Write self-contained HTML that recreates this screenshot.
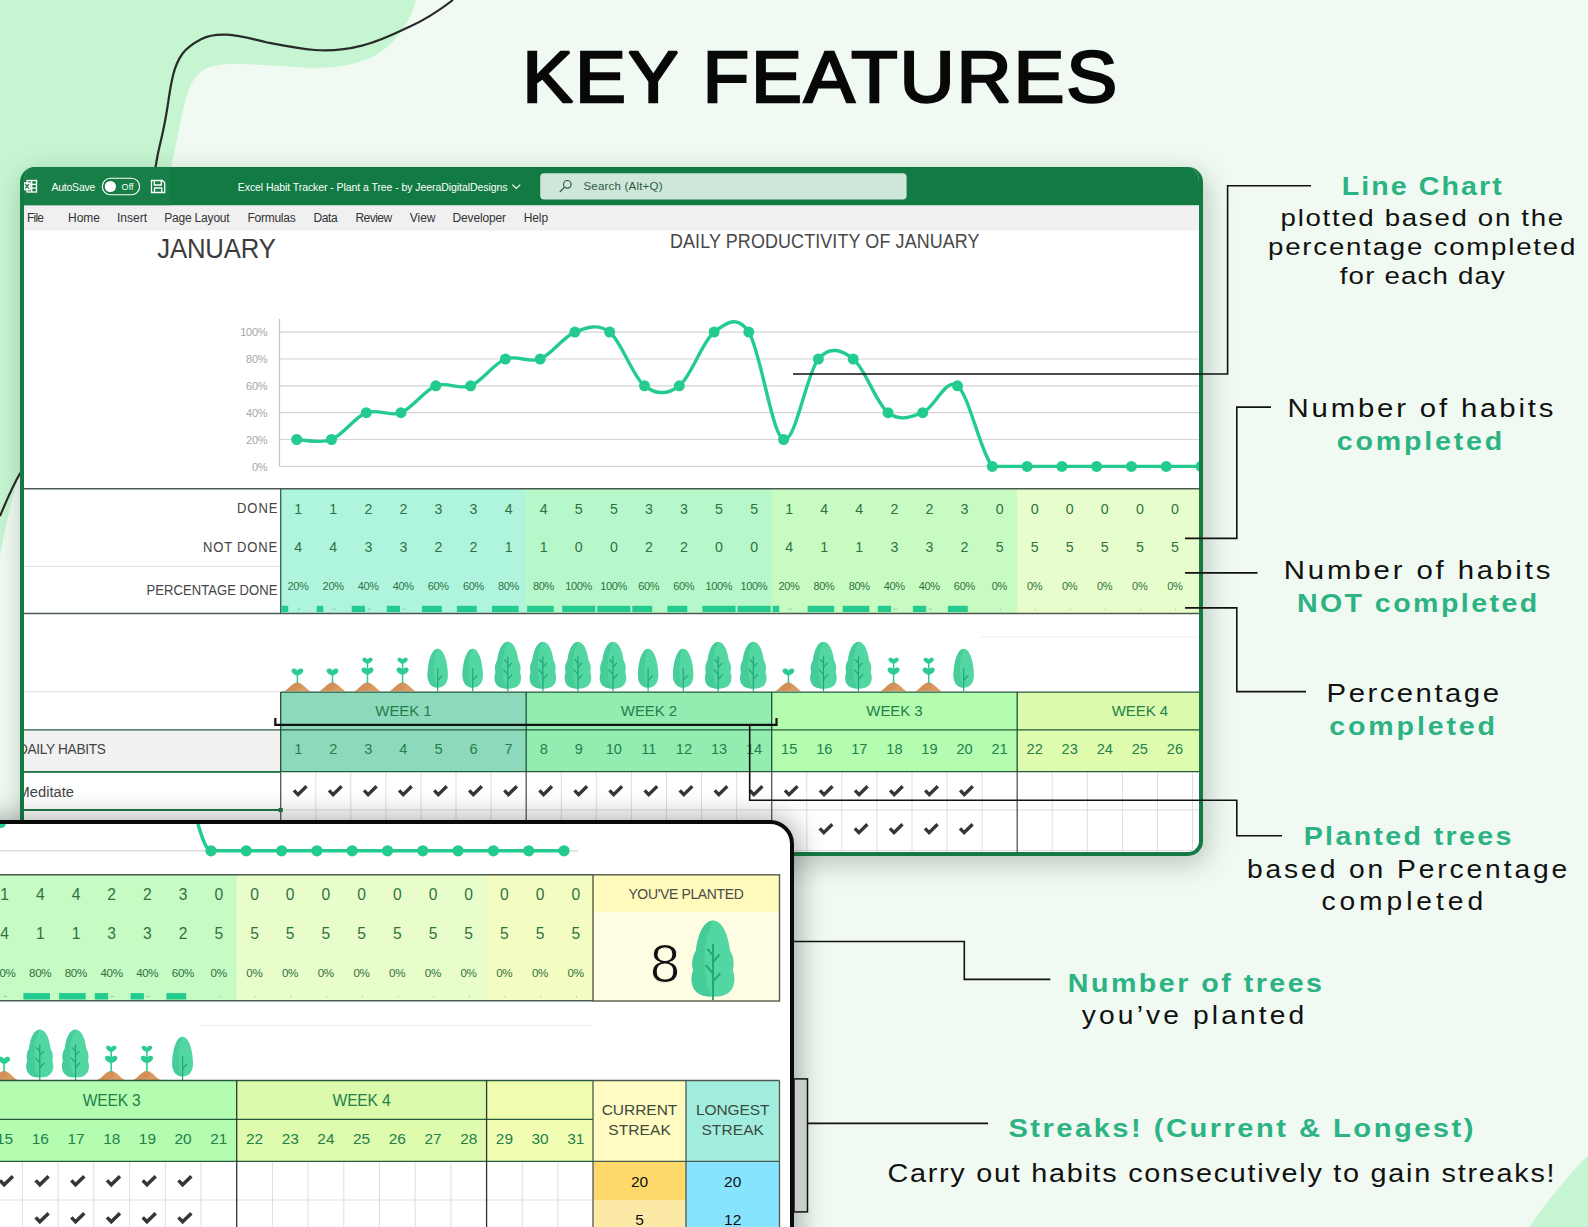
<!DOCTYPE html>
<html lang="en"><head><meta charset="utf-8"><title>Key Features - Excel Habit Tracker</title>
<style>
html,body{margin:0;padding:0;background:#f0faf2;}
body{font-family:"Liberation Sans", sans-serif;}
#page{position:relative;width:1588px;height:1227px;overflow:hidden;background:#f0faf2;}
#page>svg,#page>div{position:absolute;left:0;top:0;}
svg{display:block;overflow:visible;}
svg text{font-family:"Liberation Sans", sans-serif;white-space:pre;}
#win1{left:20px!important;top:167px!important;width:1183px;height:689px;box-sizing:border-box;border:4px solid #147a44;border-top-width:0;border-radius:15px;overflow:hidden;background:#fff;}
#win1 svg{position:absolute;left:-24px;top:-167px;}
#sh1{left:24px!important;top:172px!important;width:1176px;height:682px;border-radius:15px;box-shadow:3px 6px 26px 5px rgba(40,60,50,.26);}
#card2{left:-30px!important;top:820px!important;width:824px;height:450px;box-sizing:border-box;border:4px solid #0a0a0a;border-radius:0 24px 0 0;overflow:hidden;background:#fff;}
#card2 svg{position:absolute;left:26px;top:-824px;}
#sh2{left:-30px!important;top:824px!important;width:820px;height:450px;border-radius:0 24px 0 0;box-shadow:3px 0 26px 7px rgba(30,40,35,.36);}
#title{left:0;top:0;}
</style></head>
<body>
<div id="page">
<svg id="bg" width="1588" height="1227" viewBox="0 0 1588 1227">
<path d="M0,0 H416 C410,22 392,52 362,61 C330,72 300,67 252,64.5 C225,63 208,64 198,74 C187,86 184,105 180,125 C176,146 172,165 165,190 C150,260 80,400 21,470 C14,488 5,528 0,556 Z" fill="#c5f5d1"/>
<path d="M1588,1155.5 C1576,1167 1548,1199 1529.5,1227 H1588 Z" fill="#c5f5d1"/>
<path d="M453,0 C440,10 425,20 409,27 C392,35 378,42 362,45.6 C345,50 330,51 315,50 C298,48.5 283,45.5 267.6,42.5 C252,39 240,35.2 226.7,34.6 C216,34.2 208,35.5 201.5,39 C193,43.5 187,47.5 182.6,53.5 C177.5,60.5 175,67 173,75.6 C170,88 168.8,99 167,110 C165,122 163,132 160.6,141.7 C158.5,150 157,158 155.9,165 C150,200 118,330 20,473.5 C12,487 6,502 0,516" stroke="#2a2a2a" stroke-width="2.2" fill="none"/>
</svg>
<div id="sh1"></div>
<div id="win1"><svg width="1588" height="1227" viewBox="0 0 1588 1227"><defs>
<g id="mound"><path d="M-13.5,0 C-9.5,-1 -5,-8.8 0,-8.8 C5,-8.8 9.5,-1 13.5,0 Z" fill="#dc9a63"/><path d="M-13.5,0 C-9.5,-1 -5,-8.8 0,-8.8 C3,-8.8 4,-5 2,-3 C0,-1 -6,0 -13.5,0 Z" fill="#c98550" opacity=".5"/></g>
<g id="heart"><path d="M0,3 C-2,2.2 -5.6,0.6 -5.6,-1.9 C-5.6,-4.3 -2,-4.7 0,-2.1 C2,-4.7 5.6,-4.3 5.6,-1.9 C5.6,0.6 2,2.2 0,3 Z" fill="#2ccb90"/></g>
<g id="t1"><use href="#mound"/><path d="M0,-8 V-16.5" stroke="#2ccb90" stroke-width="1.5"/><use href="#heart" transform="translate(0,-18.6) scale(1.05)"/></g>
<g id="t2"><use href="#mound"/><path d="M0,-8 V-29" stroke="#2ccb90" stroke-width="1.5"/><use href="#heart" transform="translate(0,-19.5) scale(1.08)"/><use href="#heart" transform="translate(0,-30) scale(.92)"/></g>
<g id="t3"><path d="M0,-42.5 C7,-42.5 10.2,-26 10.2,-16 C10.2,-7.5 5.5,-3.5 0,-3.5 C-5.5,-3.5 -10.2,-7.5 -10.2,-16 C-10.2,-26 -7,-42.5 0,-42.5 Z" fill="#52d6a2"/><path d="M0,-42.5 C-7,-42.5 -10.2,-26 -10.2,-16 C-10.2,-7.5 -5.5,-3.5 0,-3.5 C-4,-8 -6,-30 0,-42.5 Z" fill="#3fc592" opacity=".55"/><path d="M0,0 V-23 M0,-11 L4.5,-16" stroke="#20a674" stroke-width="1.15" fill="none"/></g>
<g id="t4"><path d="M0,-49.5 C6,-49.5 9.5,-40 10.5,-31 C13,-27 13.2,-22 12.2,-19 C14.2,-14 13.6,-7 8.5,-4.2 C5,-2.4 2,-2.6 0,-2.6 C-2,-2.6 -5,-2.4 -8.5,-4.2 C-13.6,-7 -14.2,-14 -12.2,-19 C-13.2,-22 -13,-27 -10.5,-31 C-9.5,-40 -6,-49.5 0,-49.5 Z" fill="#52d6a2"/><path d="M0,-49.5 C-6,-49.5 -9.5,-40 -10.5,-31 C-13,-27 -13.2,-22 -12.2,-19 C-14.2,-14 -13.6,-7 -8.5,-4.2 C-5,-2.4 -2,-2.6 0,-2.6 C-6,-8 -8,-34 0,-49.5 Z" fill="#3fc592" opacity=".6"/><path d="M0,0 V-35 M0,-12 L4.5,-17 M0,-17 L-4.5,-22 M0,-24 L4,-28.5 M0,-28 L-3.5,-32" stroke="#20a674" stroke-width="1.15" fill="none"/></g>
<g id="chk"><path d="M-6.3,-0.6 L-2.2,3.6 L6.3,-4.7" stroke="#363636" stroke-width="3.4" fill="none" stroke-linejoin="miter"/></g>
</defs>
<rect x="20" y="167" width="1190" height="38.5" fill="#127a43"/>
<rect x="20" y="167" width="150" height="38.5" fill="#177e48"/>
<rect x="20" y="205.5" width="1190" height="25" fill="#f0f0f0"/>
<g stroke="#fff" stroke-width="1.3" fill="none"><rect x="27" y="180.5" width="9.5" height="11.5"/><path d="M27,184.3 H36.5 M27,188.2 H36.5 M31.7,180.5 V192"/></g><rect x="23.5" y="182.3" width="7.2" height="8" fill="#fff"/><path d="M25.2,184 L29,188.6 M29,184 L25.2,188.6" stroke="#177e48" stroke-width="1.2"/>
<text x="51.40" y="190.80" font-size="10.5" fill="#fff" letter-spacing="-0.219">AutoSave</text>
<rect x="102.3" y="178.3" width="37.3" height="16.4" rx="8.2" fill="none" stroke="#fff" stroke-width="1.1"/><circle cx="110.4" cy="186.5" r="5.6" fill="#fff"/>
<text x="121.60" y="189.60" font-size="9" fill="#fff" letter-spacing="0.081">Off</text>
<g stroke="#fff" stroke-width="1.3" fill="none"><path d="M151.5,180.5 H162.5 L164.7,182.7 V192.5 H151.5 Z"/><path d="M154.3,180.5 V185 H161.3 V180.5 M154.5,192.5 V188 H161.7 V192.5"/></g>
<text x="237.80" y="190.70" font-size="10.5" fill="#fff" letter-spacing="-0.070">Excel Habit Tracker - Plant a Tree - by JeeraDigitalDesigns</text>
<path d="M512.3,184.6 L516.3,188.4 L520.3,184.6" stroke="#fff" stroke-width="1.2" fill="none"/>
<rect x="540.2" y="173.3" width="366.4" height="26.2" rx="4" fill="#cfe6da"/>
<circle cx="567.3" cy="184.3" r="3.8" fill="none" stroke="#2c5c44" stroke-width="1.2"/><path d="M564.6,187.2 L559.8,192" stroke="#2c5c44" stroke-width="1.2"/>
<text x="583.50" y="190.20" font-size="11.5" fill="#2c5c44" letter-spacing="0.202">Search (Alt+Q)</text>
<text x="27.00" y="222.30" font-size="12" fill="#333" letter-spacing="-0.779">File</text>
<text x="68.00" y="222.30" font-size="12" fill="#333" letter-spacing="-0.003">Home</text>
<text x="117.00" y="222.30" font-size="12" fill="#333" letter-spacing="-0.002">Insert</text>
<text x="164.20" y="222.30" font-size="12" fill="#333" letter-spacing="-0.189">Page Layout</text>
<text x="247.40" y="222.30" font-size="12" fill="#333" letter-spacing="-0.244">Formulas</text>
<text x="313.40" y="222.30" font-size="12" fill="#333" letter-spacing="-0.316">Data</text>
<text x="355.40" y="222.30" font-size="12" fill="#333" letter-spacing="-0.509">Review</text>
<text x="409.80" y="222.30" font-size="12" fill="#333" letter-spacing="-0.031">View</text>
<text x="452.60" y="222.30" font-size="12" fill="#333" letter-spacing="-0.162">Developer</text>
<text x="523.70" y="222.30" font-size="12" fill="#333" letter-spacing="-0.093">Help</text>
<text transform="translate(157.20,258.00) scale(0.92,1)" font-size="28" fill="#3c3c3c" letter-spacing="-0.176">JANUARY</text>
<text transform="translate(670.00,247.80) scale(0.92,1)" font-size="19.5" fill="#484848" letter-spacing="0.122">DAILY PRODUCTIVITY OF JANUARY</text>
<path d="M279.5,466.4 H1199" stroke="#d4d4d4" stroke-width="1.2"/>
<text x="251.90" y="470.60" font-size="11" fill="#a6a6a6" letter-spacing="-0.300">0%</text>
<path d="M279.5,439.5 H1199" stroke="#d4d4d4" stroke-width="1.2"/>
<text x="246.08" y="443.74" font-size="11" fill="#a6a6a6" letter-spacing="-0.300">20%</text>
<path d="M279.5,412.7 H1199" stroke="#d4d4d4" stroke-width="1.2"/>
<text x="246.08" y="416.88" font-size="11" fill="#a6a6a6" letter-spacing="-0.300">40%</text>
<path d="M279.5,385.8 H1199" stroke="#d4d4d4" stroke-width="1.2"/>
<text x="246.08" y="390.02" font-size="11" fill="#a6a6a6" letter-spacing="-0.300">60%</text>
<path d="M279.5,359.0 H1199" stroke="#d4d4d4" stroke-width="1.2"/>
<text x="246.08" y="363.16" font-size="11" fill="#a6a6a6" letter-spacing="-0.300">80%</text>
<path d="M279.5,332.1 H1199" stroke="#d4d4d4" stroke-width="1.2"/>
<text x="240.27" y="336.30" font-size="11" fill="#a6a6a6" letter-spacing="-0.300">100%</text>
<path d="M279.5,319 V466.4" stroke="#c4c4c4" stroke-width="1.2"/>
<path d="M296.7,439.5 C302.5,439.5 319.9,444.0 331.5,439.5 C343.1,435.1 354.7,417.2 366.3,412.7 C377.9,408.2 389.4,417.2 401.0,412.7 C412.6,408.2 424.2,390.3 435.8,385.8 C447.4,381.3 459.0,390.3 470.6,385.8 C482.2,381.3 493.8,363.4 505.4,359.0 C517.0,354.5 528.6,363.4 540.2,359.0 C551.8,354.5 563.3,336.6 574.9,332.1 C586.5,327.6 598.1,323.1 609.7,332.1 C621.3,341.1 632.9,376.9 644.5,385.8 C656.1,394.8 667.7,394.8 679.3,385.8 C690.9,376.9 702.5,341.1 714.1,332.1 C725.7,323.1 737.2,314.2 748.8,332.1 C760.4,350.0 772.0,435.1 783.6,439.5 C795.2,444.0 806.8,372.4 818.4,359.0 C830.0,345.5 841.6,350.0 853.2,359.0 C864.8,367.9 876.4,403.7 888.0,412.7 C899.6,421.6 911.1,417.2 922.7,412.7 C934.3,408.2 945.9,376.9 957.5,385.8 C969.1,394.8 980.7,453.0 992.3,466.4 C1003.9,466.4 1015.5,466.4 1027.1,466.4 C1038.7,466.4 1050.3,466.4 1061.9,466.4 C1073.5,466.4 1085.0,466.4 1096.6,466.4 C1108.2,466.4 1119.8,466.4 1131.4,466.4 C1143.0,466.4 1154.6,466.4 1166.2,466.4 C1177.8,466.4 1189.4,466.4 1201.0,466.4 C1212.6,466.4 1230.0,466.4 1235.8,466.4" stroke="#23cc8e" stroke-width="3.4" fill="none" stroke-linejoin="round"/>
<circle cx="296.7" cy="439.5" r="5.5" fill="#23cc8e"/>
<circle cx="331.5" cy="439.5" r="5.5" fill="#23cc8e"/>
<circle cx="366.3" cy="412.7" r="5.5" fill="#23cc8e"/>
<circle cx="401.0" cy="412.7" r="5.5" fill="#23cc8e"/>
<circle cx="435.8" cy="385.8" r="5.5" fill="#23cc8e"/>
<circle cx="470.6" cy="385.8" r="5.5" fill="#23cc8e"/>
<circle cx="505.4" cy="359.0" r="5.5" fill="#23cc8e"/>
<circle cx="540.2" cy="359.0" r="5.5" fill="#23cc8e"/>
<circle cx="574.9" cy="332.1" r="5.5" fill="#23cc8e"/>
<circle cx="609.7" cy="332.1" r="5.5" fill="#23cc8e"/>
<circle cx="644.5" cy="385.8" r="5.5" fill="#23cc8e"/>
<circle cx="679.3" cy="385.8" r="5.5" fill="#23cc8e"/>
<circle cx="714.1" cy="332.1" r="5.5" fill="#23cc8e"/>
<circle cx="748.8" cy="332.1" r="5.5" fill="#23cc8e"/>
<circle cx="783.6" cy="439.5" r="5.5" fill="#23cc8e"/>
<circle cx="818.4" cy="359.0" r="5.5" fill="#23cc8e"/>
<circle cx="853.2" cy="359.0" r="5.5" fill="#23cc8e"/>
<circle cx="888.0" cy="412.7" r="5.5" fill="#23cc8e"/>
<circle cx="922.7" cy="412.7" r="5.5" fill="#23cc8e"/>
<circle cx="957.5" cy="385.8" r="5.5" fill="#23cc8e"/>
<circle cx="992.3" cy="466.4" r="5.5" fill="#23cc8e"/>
<circle cx="1027.1" cy="466.4" r="5.5" fill="#23cc8e"/>
<circle cx="1061.9" cy="466.4" r="5.5" fill="#23cc8e"/>
<circle cx="1096.6" cy="466.4" r="5.5" fill="#23cc8e"/>
<circle cx="1131.4" cy="466.4" r="5.5" fill="#23cc8e"/>
<circle cx="1166.2" cy="466.4" r="5.5" fill="#23cc8e"/>
<circle cx="1201.0" cy="466.4" r="5.5" fill="#23cc8e"/>
<circle cx="1235.8" cy="466.4" r="5.5" fill="#23cc8e"/>
<rect x="280.7" y="489" width="245.8" height="124.5" fill="#aff5de"/>
<rect x="526.2" y="489" width="245.8" height="124.5" fill="#b6f8c9"/>
<rect x="771.7" y="489" width="245.8" height="124.5" fill="#c8fbc1"/>
<rect x="1017.2" y="489" width="245.8" height="124.5" fill="#e8fdcc"/>
<path d="M24,488.8 H1199 M24,613.6 H1199" stroke="#4a5a50" stroke-width="1.5"/>
<path d="M280.7,488.8 V613.6" stroke="#3a6a50" stroke-width="1.4"/>
<path d="M24,566.3 H280" stroke="#e4e4e4" stroke-width="1.2"/>
<text transform="translate(237.00,513.30) scale(0.9,1)" font-size="14.5" fill="#444" letter-spacing="1.036">DONE</text>
<text transform="translate(203.00,551.70) scale(0.9,1)" font-size="14.5" fill="#444" letter-spacing="0.893">NOT DONE</text>
<text transform="translate(146.50,595.00) scale(0.9,1)" font-size="14.5" fill="#444" letter-spacing="0.057">PERCENTAGE DONE</text>
<text x="298.20" y="513.60" font-size="14.2" fill="#2f7242" text-anchor="middle">1</text>
<text x="298.20" y="551.80" font-size="14.2" fill="#2f7242" text-anchor="middle">4</text>
<text x="287.54" y="589.50" font-size="11" fill="#2f7242" letter-spacing="-0.350">20%</text>
<rect x="281.6" y="605.8" width="6.6" height="6.2" fill="#23cc8e"/>
<rect x="297.7" y="608.6" width="1" height="1" fill="#5bbd98"/><rect x="299.5" y="608.6" width="1" height="1" fill="#5bbd98"/>
<text x="333.27" y="513.60" font-size="14.2" fill="#2f7242" text-anchor="middle">1</text>
<text x="333.27" y="551.80" font-size="14.2" fill="#2f7242" text-anchor="middle">4</text>
<text x="322.61" y="589.50" font-size="11" fill="#2f7242" letter-spacing="-0.350">20%</text>
<rect x="316.7" y="605.8" width="6.6" height="6.2" fill="#23cc8e"/>
<rect x="332.8" y="608.6" width="1" height="1" fill="#5bbd98"/><rect x="334.6" y="608.6" width="1" height="1" fill="#5bbd98"/>
<text x="368.34" y="513.60" font-size="14.2" fill="#2f7242" text-anchor="middle">2</text>
<text x="368.34" y="551.80" font-size="14.2" fill="#2f7242" text-anchor="middle">3</text>
<text x="357.68" y="589.50" font-size="11" fill="#2f7242" letter-spacing="-0.350">40%</text>
<rect x="351.7" y="605.8" width="13.3" height="6.2" fill="#23cc8e"/>
<rect x="367.8" y="608.6" width="1" height="1" fill="#5bbd98"/><rect x="369.6" y="608.6" width="1" height="1" fill="#5bbd98"/>
<text x="403.41" y="513.60" font-size="14.2" fill="#2f7242" text-anchor="middle">2</text>
<text x="403.41" y="551.80" font-size="14.2" fill="#2f7242" text-anchor="middle">3</text>
<text x="392.75" y="589.50" font-size="11" fill="#2f7242" letter-spacing="-0.350">40%</text>
<rect x="386.8" y="605.8" width="13.3" height="6.2" fill="#23cc8e"/>
<rect x="402.9" y="608.6" width="1" height="1" fill="#5bbd98"/><rect x="404.7" y="608.6" width="1" height="1" fill="#5bbd98"/>
<text x="438.48" y="513.60" font-size="14.2" fill="#2f7242" text-anchor="middle">3</text>
<text x="438.48" y="551.80" font-size="14.2" fill="#2f7242" text-anchor="middle">2</text>
<text x="427.82" y="589.50" font-size="11" fill="#2f7242" letter-spacing="-0.350">60%</text>
<rect x="421.9" y="605.8" width="19.9" height="6.2" fill="#23cc8e"/>
<text x="473.55" y="513.60" font-size="14.2" fill="#2f7242" text-anchor="middle">3</text>
<text x="473.55" y="551.80" font-size="14.2" fill="#2f7242" text-anchor="middle">2</text>
<text x="462.89" y="589.50" font-size="11" fill="#2f7242" letter-spacing="-0.350">60%</text>
<rect x="456.9" y="605.8" width="19.9" height="6.2" fill="#23cc8e"/>
<text x="508.62" y="513.60" font-size="14.2" fill="#2f7242" text-anchor="middle">4</text>
<text x="508.62" y="551.80" font-size="14.2" fill="#2f7242" text-anchor="middle">1</text>
<text x="497.96" y="589.50" font-size="11" fill="#2f7242" letter-spacing="-0.350">80%</text>
<rect x="492.0" y="605.8" width="26.6" height="6.2" fill="#23cc8e"/>
<text x="543.69" y="513.60" font-size="14.2" fill="#2f7242" text-anchor="middle">4</text>
<text x="543.69" y="551.80" font-size="14.2" fill="#2f7242" text-anchor="middle">1</text>
<text x="533.03" y="589.50" font-size="11" fill="#2f7242" letter-spacing="-0.350">80%</text>
<rect x="527.1" y="605.8" width="26.6" height="6.2" fill="#23cc8e"/>
<text x="578.76" y="513.60" font-size="14.2" fill="#2f7242" text-anchor="middle">5</text>
<text x="578.76" y="551.80" font-size="14.2" fill="#2f7242" text-anchor="middle">0</text>
<text x="565.22" y="589.50" font-size="11" fill="#2f7242" letter-spacing="-0.350">100%</text>
<rect x="562.2" y="605.8" width="33.2" height="6.2" fill="#23cc8e"/>
<text x="613.83" y="513.60" font-size="14.2" fill="#2f7242" text-anchor="middle">5</text>
<text x="613.83" y="551.80" font-size="14.2" fill="#2f7242" text-anchor="middle">0</text>
<text x="600.29" y="589.50" font-size="11" fill="#2f7242" letter-spacing="-0.350">100%</text>
<rect x="597.2" y="605.8" width="33.2" height="6.2" fill="#23cc8e"/>
<text x="648.90" y="513.60" font-size="14.2" fill="#2f7242" text-anchor="middle">3</text>
<text x="648.90" y="551.80" font-size="14.2" fill="#2f7242" text-anchor="middle">2</text>
<text x="638.24" y="589.50" font-size="11" fill="#2f7242" letter-spacing="-0.350">60%</text>
<rect x="632.3" y="605.8" width="19.9" height="6.2" fill="#23cc8e"/>
<text x="683.97" y="513.60" font-size="14.2" fill="#2f7242" text-anchor="middle">3</text>
<text x="683.97" y="551.80" font-size="14.2" fill="#2f7242" text-anchor="middle">2</text>
<text x="673.31" y="589.50" font-size="11" fill="#2f7242" letter-spacing="-0.350">60%</text>
<rect x="667.4" y="605.8" width="19.9" height="6.2" fill="#23cc8e"/>
<text x="719.04" y="513.60" font-size="14.2" fill="#2f7242" text-anchor="middle">5</text>
<text x="719.04" y="551.80" font-size="14.2" fill="#2f7242" text-anchor="middle">0</text>
<text x="705.50" y="589.50" font-size="11" fill="#2f7242" letter-spacing="-0.350">100%</text>
<rect x="702.4" y="605.8" width="33.2" height="6.2" fill="#23cc8e"/>
<text x="754.11" y="513.60" font-size="14.2" fill="#2f7242" text-anchor="middle">5</text>
<text x="754.11" y="551.80" font-size="14.2" fill="#2f7242" text-anchor="middle">0</text>
<text x="740.57" y="589.50" font-size="11" fill="#2f7242" letter-spacing="-0.350">100%</text>
<rect x="737.5" y="605.8" width="33.2" height="6.2" fill="#23cc8e"/>
<text x="789.18" y="513.60" font-size="14.2" fill="#2f7242" text-anchor="middle">1</text>
<text x="789.18" y="551.80" font-size="14.2" fill="#2f7242" text-anchor="middle">4</text>
<text x="778.52" y="589.50" font-size="11" fill="#2f7242" letter-spacing="-0.350">20%</text>
<rect x="772.6" y="605.8" width="6.6" height="6.2" fill="#23cc8e"/>
<rect x="788.7" y="608.6" width="1" height="1" fill="#5bbd98"/><rect x="790.5" y="608.6" width="1" height="1" fill="#5bbd98"/>
<text x="824.25" y="513.60" font-size="14.2" fill="#2f7242" text-anchor="middle">4</text>
<text x="824.25" y="551.80" font-size="14.2" fill="#2f7242" text-anchor="middle">1</text>
<text x="813.59" y="589.50" font-size="11" fill="#2f7242" letter-spacing="-0.350">80%</text>
<rect x="807.6" y="605.8" width="26.6" height="6.2" fill="#23cc8e"/>
<text x="859.32" y="513.60" font-size="14.2" fill="#2f7242" text-anchor="middle">4</text>
<text x="859.32" y="551.80" font-size="14.2" fill="#2f7242" text-anchor="middle">1</text>
<text x="848.66" y="589.50" font-size="11" fill="#2f7242" letter-spacing="-0.350">80%</text>
<rect x="842.7" y="605.8" width="26.6" height="6.2" fill="#23cc8e"/>
<text x="894.39" y="513.60" font-size="14.2" fill="#2f7242" text-anchor="middle">2</text>
<text x="894.39" y="551.80" font-size="14.2" fill="#2f7242" text-anchor="middle">3</text>
<text x="883.73" y="589.50" font-size="11" fill="#2f7242" letter-spacing="-0.350">40%</text>
<rect x="877.8" y="605.8" width="13.3" height="6.2" fill="#23cc8e"/>
<rect x="893.9" y="608.6" width="1" height="1" fill="#5bbd98"/><rect x="895.7" y="608.6" width="1" height="1" fill="#5bbd98"/>
<text x="929.46" y="513.60" font-size="14.2" fill="#2f7242" text-anchor="middle">2</text>
<text x="929.46" y="551.80" font-size="14.2" fill="#2f7242" text-anchor="middle">3</text>
<text x="918.80" y="589.50" font-size="11" fill="#2f7242" letter-spacing="-0.350">40%</text>
<rect x="912.9" y="605.8" width="13.3" height="6.2" fill="#23cc8e"/>
<rect x="929.0" y="608.6" width="1" height="1" fill="#5bbd98"/><rect x="930.8" y="608.6" width="1" height="1" fill="#5bbd98"/>
<text x="964.53" y="513.60" font-size="14.2" fill="#2f7242" text-anchor="middle">3</text>
<text x="964.53" y="551.80" font-size="14.2" fill="#2f7242" text-anchor="middle">2</text>
<text x="953.87" y="589.50" font-size="11" fill="#2f7242" letter-spacing="-0.350">60%</text>
<rect x="947.9" y="605.8" width="19.9" height="6.2" fill="#23cc8e"/>
<text x="999.60" y="513.60" font-size="14.2" fill="#2f7242" text-anchor="middle">0</text>
<text x="999.60" y="551.80" font-size="14.2" fill="#2f7242" text-anchor="middle">5</text>
<text x="991.83" y="589.50" font-size="11" fill="#2f7242" letter-spacing="-0.350">0%</text>
<rect x="999.8" y="608.8" width="1" height="1" fill="#8fae8a"/>
<text x="1034.67" y="513.60" font-size="14.2" fill="#2f7242" text-anchor="middle">0</text>
<text x="1034.67" y="551.80" font-size="14.2" fill="#2f7242" text-anchor="middle">5</text>
<text x="1026.90" y="589.50" font-size="11" fill="#2f7242" letter-spacing="-0.350">0%</text>
<rect x="1034.9" y="608.8" width="1" height="1" fill="#8fae8a"/>
<text x="1069.74" y="513.60" font-size="14.2" fill="#2f7242" text-anchor="middle">0</text>
<text x="1069.74" y="551.80" font-size="14.2" fill="#2f7242" text-anchor="middle">5</text>
<text x="1061.97" y="589.50" font-size="11" fill="#2f7242" letter-spacing="-0.350">0%</text>
<rect x="1069.9" y="608.8" width="1" height="1" fill="#8fae8a"/>
<text x="1104.81" y="513.60" font-size="14.2" fill="#2f7242" text-anchor="middle">0</text>
<text x="1104.81" y="551.80" font-size="14.2" fill="#2f7242" text-anchor="middle">5</text>
<text x="1097.04" y="589.50" font-size="11" fill="#2f7242" letter-spacing="-0.350">0%</text>
<rect x="1105.0" y="608.8" width="1" height="1" fill="#8fae8a"/>
<text x="1139.88" y="513.60" font-size="14.2" fill="#2f7242" text-anchor="middle">0</text>
<text x="1139.88" y="551.80" font-size="14.2" fill="#2f7242" text-anchor="middle">5</text>
<text x="1132.11" y="589.50" font-size="11" fill="#2f7242" letter-spacing="-0.350">0%</text>
<rect x="1140.1" y="608.8" width="1" height="1" fill="#8fae8a"/>
<text x="1174.95" y="513.60" font-size="14.2" fill="#2f7242" text-anchor="middle">0</text>
<text x="1174.95" y="551.80" font-size="14.2" fill="#2f7242" text-anchor="middle">5</text>
<text x="1167.18" y="589.50" font-size="11" fill="#2f7242" letter-spacing="-0.350">0%</text>
<rect x="1175.2" y="608.8" width="1" height="1" fill="#8fae8a"/>
<path d="M24,691.6 H280" stroke="#e6e6e6" stroke-width="1.2"/><path d="M981,637 H1199" stroke="#ececec" stroke-width="1"/>
<use href="#t1" x="297.4" y="691.3"/>
<use href="#t1" x="332.5" y="691.3"/>
<use href="#t2" x="367.5" y="691.3"/>
<use href="#t2" x="402.6" y="691.3"/>
<use href="#t3" x="437.7" y="691.3"/>
<use href="#t3" x="472.7" y="691.3"/>
<use href="#t4" x="507.8" y="691.3"/>
<use href="#t4" x="542.9" y="691.3"/>
<use href="#t4" x="578.0" y="691.3"/>
<use href="#t4" x="613.0" y="691.3"/>
<use href="#t3" x="648.1" y="691.3"/>
<use href="#t3" x="683.2" y="691.3"/>
<use href="#t4" x="718.2" y="691.3"/>
<use href="#t4" x="753.3" y="691.3"/>
<use href="#t1" x="788.4" y="691.3"/>
<use href="#t4" x="823.5" y="691.3"/>
<use href="#t4" x="858.5" y="691.3"/>
<use href="#t2" x="893.6" y="691.3"/>
<use href="#t2" x="928.7" y="691.3"/>
<use href="#t3" x="963.7" y="691.3"/>
<rect x="280.7" y="692" width="245.8" height="38" fill="#8dd9bc"/>
<rect x="280.7" y="730" width="245.8" height="42" fill="#8dd9bc"/>
<text x="375.35" y="716.20" font-size="15" fill="#23804a" letter-spacing="-0.096">WEEK 1</text>
<rect x="526.2" y="692" width="245.8" height="38" fill="#93ecb0"/>
<rect x="526.2" y="730" width="245.8" height="42" fill="#93ecb0"/>
<text x="620.84" y="716.20" font-size="15" fill="#23804a" letter-spacing="-0.096">WEEK 2</text>
<rect x="771.7" y="692" width="245.8" height="38" fill="#b3fcb0"/>
<rect x="771.7" y="730" width="245.8" height="42" fill="#b3fcb0"/>
<text x="866.33" y="716.20" font-size="15" fill="#23804a" letter-spacing="-0.096">WEEK 3</text>
<rect x="1017.2" y="692" width="245.8" height="38" fill="#dbfaab"/>
<rect x="1017.2" y="730" width="245.8" height="42" fill="#dffbae"/>
<text x="1111.82" y="716.20" font-size="15" fill="#23804a" letter-spacing="-0.096">WEEK 4</text>
<rect x="24" y="730" width="256.7" height="41.6" fill="#f1f1f1"/>
<text x="298.20" y="754.30" font-size="14.6" fill="#23804a" text-anchor="middle">1</text>
<text x="333.27" y="754.30" font-size="14.6" fill="#23804a" text-anchor="middle">2</text>
<text x="368.34" y="754.30" font-size="14.6" fill="#23804a" text-anchor="middle">3</text>
<text x="403.41" y="754.30" font-size="14.6" fill="#23804a" text-anchor="middle">4</text>
<text x="438.48" y="754.30" font-size="14.6" fill="#23804a" text-anchor="middle">5</text>
<text x="473.55" y="754.30" font-size="14.6" fill="#23804a" text-anchor="middle">6</text>
<text x="508.62" y="754.30" font-size="14.6" fill="#23804a" text-anchor="middle">7</text>
<text x="543.69" y="754.30" font-size="14.6" fill="#23804a" text-anchor="middle">8</text>
<text x="578.76" y="754.30" font-size="14.6" fill="#23804a" text-anchor="middle">9</text>
<text x="613.83" y="754.30" font-size="14.6" fill="#23804a" text-anchor="middle">10</text>
<text x="648.90" y="754.30" font-size="14.6" fill="#23804a" text-anchor="middle">11</text>
<text x="683.97" y="754.30" font-size="14.6" fill="#23804a" text-anchor="middle">12</text>
<text x="719.04" y="754.30" font-size="14.6" fill="#23804a" text-anchor="middle">13</text>
<text x="754.11" y="754.30" font-size="14.6" fill="#23804a" text-anchor="middle">14</text>
<text x="789.18" y="754.30" font-size="14.6" fill="#23804a" text-anchor="middle">15</text>
<text x="824.25" y="754.30" font-size="14.6" fill="#23804a" text-anchor="middle">16</text>
<text x="859.32" y="754.30" font-size="14.6" fill="#23804a" text-anchor="middle">17</text>
<text x="894.39" y="754.30" font-size="14.6" fill="#23804a" text-anchor="middle">18</text>
<text x="929.46" y="754.30" font-size="14.6" fill="#23804a" text-anchor="middle">19</text>
<text x="964.53" y="754.30" font-size="14.6" fill="#23804a" text-anchor="middle">20</text>
<text x="999.60" y="754.30" font-size="14.6" fill="#23804a" text-anchor="middle">21</text>
<text x="1034.67" y="754.30" font-size="14.6" fill="#23804a" text-anchor="middle">22</text>
<text x="1069.74" y="754.30" font-size="14.6" fill="#23804a" text-anchor="middle">23</text>
<text x="1104.81" y="754.30" font-size="14.6" fill="#23804a" text-anchor="middle">24</text>
<text x="1139.88" y="754.30" font-size="14.6" fill="#23804a" text-anchor="middle">25</text>
<text x="1174.95" y="754.30" font-size="14.6" fill="#23804a" text-anchor="middle">26</text>
<path d="M315.8,772 V856" stroke="#dedede" stroke-width="1"/>
<path d="M350.8,772 V856" stroke="#dedede" stroke-width="1"/>
<path d="M385.9,772 V856" stroke="#dedede" stroke-width="1"/>
<path d="M421.0,772 V856" stroke="#dedede" stroke-width="1"/>
<path d="M456.0,772 V856" stroke="#dedede" stroke-width="1"/>
<path d="M491.1,772 V856" stroke="#dedede" stroke-width="1"/>
<path d="M561.3,772 V856" stroke="#dedede" stroke-width="1"/>
<path d="M596.3,772 V856" stroke="#dedede" stroke-width="1"/>
<path d="M631.4,772 V856" stroke="#dedede" stroke-width="1"/>
<path d="M666.5,772 V856" stroke="#dedede" stroke-width="1"/>
<path d="M701.5,772 V856" stroke="#dedede" stroke-width="1"/>
<path d="M736.6,772 V856" stroke="#dedede" stroke-width="1"/>
<path d="M806.8,772 V856" stroke="#dedede" stroke-width="1"/>
<path d="M841.8,772 V856" stroke="#dedede" stroke-width="1"/>
<path d="M876.9,772 V856" stroke="#dedede" stroke-width="1"/>
<path d="M912.0,772 V856" stroke="#dedede" stroke-width="1"/>
<path d="M947.0,772 V856" stroke="#dedede" stroke-width="1"/>
<path d="M982.1,772 V856" stroke="#dedede" stroke-width="1"/>
<path d="M1052.2,772 V856" stroke="#dedede" stroke-width="1"/>
<path d="M1087.3,772 V856" stroke="#dedede" stroke-width="1"/>
<path d="M1122.4,772 V856" stroke="#dedede" stroke-width="1"/>
<path d="M1157.5,772 V856" stroke="#dedede" stroke-width="1"/>
<path d="M1192.5,772 V856" stroke="#dedede" stroke-width="1"/>
<path d="M280.7,810 H1199 M280.7,850.5 H1199" stroke="#dedede" stroke-width="1"/>
<path d="M280.7,692.2 H1199 M24,729.8 H1199 M24,771.6 H1199" stroke="#27593d" stroke-width="1.3"/>
<path d="M280.7,692 V772" stroke="#1f4f35" stroke-width="1.3"/><path d="M280.7,772 V856" stroke="#555" stroke-width="1.3"/>
<path d="M526.2,692 V772" stroke="#1f4f35" stroke-width="1.3"/><path d="M526.2,772 V856" stroke="#555" stroke-width="1.3"/>
<path d="M771.7,692 V772" stroke="#1f4f35" stroke-width="1.3"/><path d="M771.7,772 V856" stroke="#555" stroke-width="1.3"/>
<path d="M1017.2,692 V772" stroke="#1f4f35" stroke-width="1.3"/><path d="M1017.2,772 V856" stroke="#555" stroke-width="1.3"/>
<text transform="translate(17.90,754.30) scale(0.88,1)" font-size="15.5" fill="#444" letter-spacing="-0.330">DAILY HABITS</text>
<text transform="translate(17.60,796.50) scale(0.95,1)" font-size="15.5" fill="#444">Meditate</text>
<path d="M24,771.8 H280.7 M24,810 H280.7" stroke="#217346" stroke-width="1.8"/><rect x="278.6" y="808" width="4.2" height="4.2" fill="#217346"/>
<use href="#chk" x="300.2" y="791"/>
<use href="#chk" x="335.3" y="791"/>
<use href="#chk" x="370.3" y="791"/>
<use href="#chk" x="405.4" y="791"/>
<use href="#chk" x="440.5" y="791"/>
<use href="#chk" x="475.5" y="791"/>
<use href="#chk" x="510.6" y="791"/>
<use href="#chk" x="545.7" y="791"/>
<use href="#chk" x="580.8" y="791"/>
<use href="#chk" x="615.8" y="791"/>
<use href="#chk" x="650.9" y="791"/>
<use href="#chk" x="686.0" y="791"/>
<use href="#chk" x="721.0" y="791"/>
<use href="#chk" x="756.1" y="791"/>
<use href="#chk" x="791.2" y="791"/>
<use href="#chk" x="826.2" y="791"/>
<use href="#chk" x="861.3" y="791"/>
<use href="#chk" x="896.4" y="791"/>
<use href="#chk" x="931.5" y="791"/>
<use href="#chk" x="966.5" y="791"/>
<use href="#chk" x="826.0" y="829"/>
<use href="#chk" x="861.1" y="829"/>
<use href="#chk" x="896.2" y="829"/>
<use href="#chk" x="931.3" y="829"/>
<use href="#chk" x="966.3" y="829"/>
</svg></div>
<svg id="lines1" width="1588" height="1227" viewBox="0 0 1588 1227">
<path d="M1311,185.7 H1227.6 V374 H793" stroke="#111" stroke-width="1.6" fill="none"/>
<path d="M1271,407.1 H1236.8 V538.4 H1185" stroke="#111" stroke-width="1.6" fill="none"/>
<path d="M1257.5,572.9 H1185" stroke="#111" stroke-width="1.6" fill="none"/>
<path d="M1185,607.9 H1236.8 V691.6 H1306" stroke="#111" stroke-width="1.6" fill="none"/>
<path d="M275.3,718 V724.9 H776.5 V718" stroke="#111" stroke-width="2.2" fill="none"/>
<path d="M749.7,725 V800.3 H1236.8 V835.8 H1282" stroke="#111" stroke-width="1.6" fill="none"/>
</svg>
<div id="sh2"></div>
<div id="card2"><svg width="1588" height="1227" viewBox="0 0 1588 1227">
<path d="M0,850.8 H578" stroke="#d4d4d4" stroke-width="1.2"/>
<path d="M193.5,810 C198,822 204,850.8 211,850.8 H564.0" stroke="#23cc8e" stroke-width="3.5" fill="none"/>
<circle cx="211.0" cy="850.8" r="5.6" fill="#23cc8e"/>
<circle cx="246.3" cy="850.8" r="5.6" fill="#23cc8e"/>
<circle cx="281.6" cy="850.8" r="5.6" fill="#23cc8e"/>
<circle cx="316.9" cy="850.8" r="5.6" fill="#23cc8e"/>
<circle cx="352.2" cy="850.8" r="5.6" fill="#23cc8e"/>
<circle cx="387.5" cy="850.8" r="5.6" fill="#23cc8e"/>
<circle cx="422.8" cy="850.8" r="5.6" fill="#23cc8e"/>
<circle cx="458.1" cy="850.8" r="5.6" fill="#23cc8e"/>
<circle cx="493.4" cy="850.8" r="5.6" fill="#23cc8e"/>
<circle cx="528.7" cy="850.8" r="5.6" fill="#23cc8e"/>
<circle cx="564.0" cy="850.8" r="5.6" fill="#23cc8e"/>
<circle cx="0.5" cy="822.5" r="5.6" fill="#23cc8e"/>
<rect x="-49.0" y="875" width="285.9" height="126" fill="#c6fbc3"/>
<rect x="236.7" y="875" width="250.2" height="126" fill="#e9fdcb"/>
<rect x="486.6" y="875" width="107.4" height="126" fill="#f3fdc2"/>
<path d="M-5,874.8 H593 M-5,1000.8 H593" stroke="#4a5a50" stroke-width="1.5"/>
<text x="4.60" y="900.00" font-size="15.6" fill="#2f7242" text-anchor="middle">1</text>
<text x="4.60" y="939.00" font-size="15.6" fill="#2f7242" text-anchor="middle">4</text>
<text x="-6.65" y="976.60" font-size="11.6" fill="#2f7242" letter-spacing="-0.350">20%</text>
<rect x="-12.3" y="993.1" width="6.6" height="6.4" fill="#23cc8e"/>
<rect x="4.1" y="996" width="1" height="1" fill="#5bbd98"/><rect x="5.9" y="996" width="1" height="1" fill="#5bbd98"/>
<text x="40.30" y="900.00" font-size="15.6" fill="#2f7242" text-anchor="middle">4</text>
<text x="40.30" y="939.00" font-size="15.6" fill="#2f7242" text-anchor="middle">1</text>
<text x="29.05" y="976.60" font-size="11.6" fill="#2f7242" letter-spacing="-0.350">80%</text>
<rect x="23.4" y="993.1" width="26.6" height="6.4" fill="#23cc8e"/>
<text x="76.00" y="900.00" font-size="15.6" fill="#2f7242" text-anchor="middle">4</text>
<text x="76.00" y="939.00" font-size="15.6" fill="#2f7242" text-anchor="middle">1</text>
<text x="64.75" y="976.60" font-size="11.6" fill="#2f7242" letter-spacing="-0.350">80%</text>
<rect x="59.1" y="993.1" width="26.6" height="6.4" fill="#23cc8e"/>
<text x="111.70" y="900.00" font-size="15.6" fill="#2f7242" text-anchor="middle">2</text>
<text x="111.70" y="939.00" font-size="15.6" fill="#2f7242" text-anchor="middle">3</text>
<text x="100.45" y="976.60" font-size="11.6" fill="#2f7242" letter-spacing="-0.350">40%</text>
<rect x="94.8" y="993.1" width="13.3" height="6.4" fill="#23cc8e"/>
<rect x="111.2" y="996" width="1" height="1" fill="#5bbd98"/><rect x="113.0" y="996" width="1" height="1" fill="#5bbd98"/>
<text x="147.40" y="900.00" font-size="15.6" fill="#2f7242" text-anchor="middle">2</text>
<text x="147.40" y="939.00" font-size="15.6" fill="#2f7242" text-anchor="middle">3</text>
<text x="136.15" y="976.60" font-size="11.6" fill="#2f7242" letter-spacing="-0.350">40%</text>
<rect x="130.6" y="993.1" width="13.3" height="6.4" fill="#23cc8e"/>
<rect x="146.9" y="996" width="1" height="1" fill="#5bbd98"/><rect x="148.7" y="996" width="1" height="1" fill="#5bbd98"/>
<text x="183.10" y="900.00" font-size="15.6" fill="#2f7242" text-anchor="middle">3</text>
<text x="183.10" y="939.00" font-size="15.6" fill="#2f7242" text-anchor="middle">2</text>
<text x="171.85" y="976.60" font-size="11.6" fill="#2f7242" letter-spacing="-0.350">60%</text>
<rect x="166.3" y="993.1" width="19.9" height="6.4" fill="#23cc8e"/>
<text x="218.80" y="900.00" font-size="15.6" fill="#2f7242" text-anchor="middle">0</text>
<text x="218.80" y="939.00" font-size="15.6" fill="#2f7242" text-anchor="middle">5</text>
<text x="210.60" y="976.60" font-size="11.6" fill="#2f7242" letter-spacing="-0.350">0%</text>
<rect x="219.0" y="996.2" width="1" height="1" fill="#8fae8a"/>
<text x="254.50" y="900.00" font-size="15.6" fill="#2f7242" text-anchor="middle">0</text>
<text x="254.50" y="939.00" font-size="15.6" fill="#2f7242" text-anchor="middle">5</text>
<text x="246.30" y="976.60" font-size="11.6" fill="#2f7242" letter-spacing="-0.350">0%</text>
<rect x="254.7" y="996.2" width="1" height="1" fill="#8fae8a"/>
<text x="290.20" y="900.00" font-size="15.6" fill="#2f7242" text-anchor="middle">0</text>
<text x="290.20" y="939.00" font-size="15.6" fill="#2f7242" text-anchor="middle">5</text>
<text x="282.00" y="976.60" font-size="11.6" fill="#2f7242" letter-spacing="-0.350">0%</text>
<rect x="290.4" y="996.2" width="1" height="1" fill="#8fae8a"/>
<text x="325.90" y="900.00" font-size="15.6" fill="#2f7242" text-anchor="middle">0</text>
<text x="325.90" y="939.00" font-size="15.6" fill="#2f7242" text-anchor="middle">5</text>
<text x="317.70" y="976.60" font-size="11.6" fill="#2f7242" letter-spacing="-0.350">0%</text>
<rect x="326.1" y="996.2" width="1" height="1" fill="#8fae8a"/>
<text x="361.60" y="900.00" font-size="15.6" fill="#2f7242" text-anchor="middle">0</text>
<text x="361.60" y="939.00" font-size="15.6" fill="#2f7242" text-anchor="middle">5</text>
<text x="353.40" y="976.60" font-size="11.6" fill="#2f7242" letter-spacing="-0.350">0%</text>
<rect x="361.8" y="996.2" width="1" height="1" fill="#8fae8a"/>
<text x="397.30" y="900.00" font-size="15.6" fill="#2f7242" text-anchor="middle">0</text>
<text x="397.30" y="939.00" font-size="15.6" fill="#2f7242" text-anchor="middle">5</text>
<text x="389.10" y="976.60" font-size="11.6" fill="#2f7242" letter-spacing="-0.350">0%</text>
<rect x="397.5" y="996.2" width="1" height="1" fill="#8fae8a"/>
<text x="433.00" y="900.00" font-size="15.6" fill="#2f7242" text-anchor="middle">0</text>
<text x="433.00" y="939.00" font-size="15.6" fill="#2f7242" text-anchor="middle">5</text>
<text x="424.80" y="976.60" font-size="11.6" fill="#2f7242" letter-spacing="-0.350">0%</text>
<rect x="433.2" y="996.2" width="1" height="1" fill="#8fae8a"/>
<text x="468.70" y="900.00" font-size="15.6" fill="#2f7242" text-anchor="middle">0</text>
<text x="468.70" y="939.00" font-size="15.6" fill="#2f7242" text-anchor="middle">5</text>
<text x="460.50" y="976.60" font-size="11.6" fill="#2f7242" letter-spacing="-0.350">0%</text>
<rect x="468.9" y="996.2" width="1" height="1" fill="#8fae8a"/>
<text x="504.40" y="900.00" font-size="15.6" fill="#2f7242" text-anchor="middle">0</text>
<text x="504.40" y="939.00" font-size="15.6" fill="#2f7242" text-anchor="middle">5</text>
<text x="496.20" y="976.60" font-size="11.6" fill="#2f7242" letter-spacing="-0.350">0%</text>
<rect x="504.6" y="996.2" width="1" height="1" fill="#8fae8a"/>
<text x="540.10" y="900.00" font-size="15.6" fill="#2f7242" text-anchor="middle">0</text>
<text x="540.10" y="939.00" font-size="15.6" fill="#2f7242" text-anchor="middle">5</text>
<text x="531.90" y="976.60" font-size="11.6" fill="#2f7242" letter-spacing="-0.350">0%</text>
<rect x="540.3" y="996.2" width="1" height="1" fill="#8fae8a"/>
<text x="575.80" y="900.00" font-size="15.6" fill="#2f7242" text-anchor="middle">0</text>
<text x="575.80" y="939.00" font-size="15.6" fill="#2f7242" text-anchor="middle">5</text>
<text x="567.60" y="976.60" font-size="11.6" fill="#2f7242" letter-spacing="-0.350">0%</text>
<rect x="576.0" y="996.2" width="1" height="1" fill="#8fae8a"/>
<rect x="593" y="875" width="186.5" height="37.5" fill="#fffbbd"/><rect x="593" y="912.5" width="186.5" height="88.5" fill="#fffde4"/>
<rect x="593" y="874.8" width="186.5" height="126.2" fill="none" stroke="#555a4a" stroke-width="1.4"/>
<text transform="translate(628.40,898.90) scale(0.9,1)" font-size="15.5" fill="#4a4a4a" letter-spacing="-0.361">YOU'VE PLANTED</text>
<text x="665.00" y="981.60" font-size="54" fill="#111" text-anchor="middle" stroke="#fffde4" stroke-width="1.0">8</text>
<use href="#t4" transform="translate(713,1000.8) scale(1.62)"/>
<path d="M200,1025.5 H593" stroke="#ececec" stroke-width="1"/>
<use href="#t1" transform="translate(4.1,1080) scale(1.02)"/>
<use href="#t4" transform="translate(39.8,1080) scale(1.02)"/>
<use href="#t4" transform="translate(75.5,1080) scale(1.02)"/>
<use href="#t2" transform="translate(111.2,1080) scale(1.02)"/>
<use href="#t2" transform="translate(146.9,1080) scale(1.02)"/>
<use href="#t3" transform="translate(182.6,1080) scale(1.02)"/>
<rect x="-49.0" y="1080.5" width="285.9" height="39" fill="#b3fcb0"/>
<rect x="-49.0" y="1119.5" width="285.9" height="42" fill="#b3fcb0"/>
<text x="82.70" y="1105.70" font-size="15.6" fill="#23804a" letter-spacing="-0.185">WEEK 3</text>
<rect x="236.7" y="1080.5" width="250.2" height="39" fill="#dbfaab"/>
<rect x="236.7" y="1119.5" width="250.2" height="42" fill="#dffbae"/>
<text x="332.60" y="1105.70" font-size="15.6" fill="#23804a" letter-spacing="-0.185">WEEK 4</text>
<rect x="486.6" y="1080.5" width="107.4" height="39" fill="#f0fdb1"/>
<rect x="486.6" y="1119.5" width="107.4" height="42" fill="#f1fdb3"/>
<text x="4.60" y="1144.20" font-size="15.4" fill="#23804a" text-anchor="middle">15</text>
<text x="40.30" y="1144.20" font-size="15.4" fill="#23804a" text-anchor="middle">16</text>
<text x="76.00" y="1144.20" font-size="15.4" fill="#23804a" text-anchor="middle">17</text>
<text x="111.70" y="1144.20" font-size="15.4" fill="#23804a" text-anchor="middle">18</text>
<text x="147.40" y="1144.20" font-size="15.4" fill="#23804a" text-anchor="middle">19</text>
<text x="183.10" y="1144.20" font-size="15.4" fill="#23804a" text-anchor="middle">20</text>
<text x="218.80" y="1144.20" font-size="15.4" fill="#23804a" text-anchor="middle">21</text>
<text x="254.50" y="1144.20" font-size="15.4" fill="#23804a" text-anchor="middle">22</text>
<text x="290.20" y="1144.20" font-size="15.4" fill="#23804a" text-anchor="middle">23</text>
<text x="325.90" y="1144.20" font-size="15.4" fill="#23804a" text-anchor="middle">24</text>
<text x="361.60" y="1144.20" font-size="15.4" fill="#23804a" text-anchor="middle">25</text>
<text x="397.30" y="1144.20" font-size="15.4" fill="#23804a" text-anchor="middle">26</text>
<text x="433.00" y="1144.20" font-size="15.4" fill="#23804a" text-anchor="middle">27</text>
<text x="468.70" y="1144.20" font-size="15.4" fill="#23804a" text-anchor="middle">28</text>
<text x="504.40" y="1144.20" font-size="15.4" fill="#23804a" text-anchor="middle">29</text>
<text x="540.10" y="1144.20" font-size="15.4" fill="#23804a" text-anchor="middle">30</text>
<text x="575.80" y="1144.20" font-size="15.4" fill="#23804a" text-anchor="middle">31</text>
<path d="M22.4,1161.5 V1230" stroke="#dedede" stroke-width="1"/>
<path d="M58.1,1161.5 V1230" stroke="#dedede" stroke-width="1"/>
<path d="M93.8,1161.5 V1230" stroke="#dedede" stroke-width="1"/>
<path d="M129.6,1161.5 V1230" stroke="#dedede" stroke-width="1"/>
<path d="M165.3,1161.5 V1230" stroke="#dedede" stroke-width="1"/>
<path d="M201.0,1161.5 V1230" stroke="#dedede" stroke-width="1"/>
<path d="M272.4,1161.5 V1230" stroke="#dedede" stroke-width="1"/>
<path d="M308.1,1161.5 V1230" stroke="#dedede" stroke-width="1"/>
<path d="M343.8,1161.5 V1230" stroke="#dedede" stroke-width="1"/>
<path d="M379.4,1161.5 V1230" stroke="#dedede" stroke-width="1"/>
<path d="M415.2,1161.5 V1230" stroke="#dedede" stroke-width="1"/>
<path d="M450.9,1161.5 V1230" stroke="#dedede" stroke-width="1"/>
<path d="M522.2,1161.5 V1230" stroke="#dedede" stroke-width="1"/>
<path d="M557.9,1161.5 V1230" stroke="#dedede" stroke-width="1"/>
<path d="M-5,1200 H593" stroke="#dedede" stroke-width="1"/>
<path d="M-5,1080.5 H593 M-5,1119.3 H593 M-5,1161.4 H593" stroke="#27593d" stroke-width="1.3"/>
<path d="M236.7,1080.5 V1230" stroke="#333" stroke-width="1.3"/>
<path d="M486.6,1080.5 V1230" stroke="#333" stroke-width="1.3"/>
<rect x="593" y="1080.5" width="93" height="81" fill="#fffbc1"/><rect x="686" y="1080.5" width="93.5" height="81" fill="#a1eede"/>
<rect x="593" y="1161.5" width="93" height="38.5" fill="#fdd96c"/><rect x="593" y="1200" width="93" height="30" fill="#fde9a6"/>
<rect x="686" y="1161.5" width="93.5" height="70" fill="#87e4fe"/>
<path d="M593,1080.5 H779.5 M593,1161.4 H779.5 M593,1080.5 V1230 M686,1080.5 V1230 M779.5,1080.5 V1230" stroke="#4a5a50" stroke-width="1.3" fill="none"/>
<text x="601.70" y="1114.60" font-size="15.5" fill="#3c4a40" letter-spacing="-0.029">CURRENT</text>
<text x="608.25" y="1134.50" font-size="15.5" fill="#3c4a40" letter-spacing="0.097">STREAK</text>
<text x="695.95" y="1114.60" font-size="15.5" fill="#3c4a40" letter-spacing="-0.095">LONGEST</text>
<text x="701.45" y="1134.50" font-size="15.5" fill="#3c4a40" letter-spacing="0.097">STREAK</text>
<text x="639.50" y="1187.00" font-size="15.5" fill="#111" text-anchor="middle">20</text>
<text x="732.70" y="1187.00" font-size="15.5" fill="#111" text-anchor="middle">20</text>
<text x="639.50" y="1224.60" font-size="15.5" fill="#111" text-anchor="middle">5</text>
<text x="732.70" y="1224.60" font-size="15.5" fill="#111" text-anchor="middle">12</text>
<use href="#chk" transform="translate(6.4,1181) scale(1.03)"/>
<use href="#chk" transform="translate(42.1,1181) scale(1.03)"/>
<use href="#chk" transform="translate(77.8,1181) scale(1.03)"/>
<use href="#chk" transform="translate(113.5,1181) scale(1.03)"/>
<use href="#chk" transform="translate(149.2,1181) scale(1.03)"/>
<use href="#chk" transform="translate(184.9,1181) scale(1.03)"/>
<use href="#chk" transform="translate(42.1,1218) scale(1.03)"/>
<use href="#chk" transform="translate(77.8,1218) scale(1.03)"/>
<use href="#chk" transform="translate(113.5,1218) scale(1.03)"/>
<use href="#chk" transform="translate(149.2,1218) scale(1.03)"/>
<use href="#chk" transform="translate(184.9,1218) scale(1.03)"/>
</svg></div>
<svg id="lines2" width="1588" height="1227" viewBox="0 0 1588 1227">
<rect x="794" y="1078.9" width="13.5" height="133" fill="#c9d0cb" stroke="#111" stroke-width="1.5"/>
<path d="M794,941.5 H964.3 V979.4 H1050.3" stroke="#111" stroke-width="1.6" fill="none"/>
<path d="M807.5,1123.4 H988" stroke="#111" stroke-width="1.6" fill="none"/>
</svg>
<svg id="labels" width="1588" height="1227" viewBox="0 0 1588 1227">
<text transform="translate(522.50,102.00) scale(1.06,1)" font-size="71.5" fill="#080808" letter-spacing="2.114" stroke="#080808" stroke-width="2.6" stroke-linejoin="miter" stroke-miterlimit="2">KEY FEATURES</text>
<text transform="translate(1341.70,195.40) scale(1.1,1)" font-size="26" fill="#2db383" letter-spacing="1.877" font-weight="bold">Line Chart</text>
<text transform="translate(1280.60,225.50) scale(1.13,1)" font-size="24.5" fill="#111" letter-spacing="1.481">plotted based on the</text>
<text transform="translate(1268.00,254.80) scale(1.13,1)" font-size="24.5" fill="#111" letter-spacing="1.562">percentage completed</text>
<text transform="translate(1339.70,283.90) scale(1.13,1)" font-size="24.5" fill="#111" letter-spacing="1.041">for each day</text>
<text transform="translate(1287.50,416.90) scale(1.13,1)" font-size="26" fill="#111" letter-spacing="2.494">Number of habits</text>
<text transform="translate(1336.80,449.90) scale(1.1,1)" font-size="26" fill="#2db383" letter-spacing="2.542" font-weight="bold">completed</text>
<text transform="translate(1283.70,579.20) scale(1.13,1)" font-size="26" fill="#111" letter-spacing="2.536">Number of habits</text>
<text transform="translate(1296.90,612.10) scale(1.1,1)" font-size="26" fill="#2db383" letter-spacing="2.194" font-weight="bold">NOT completed</text>
<text transform="translate(1326.60,701.60) scale(1.13,1)" font-size="26" fill="#111" letter-spacing="2.176">Percentage</text>
<text transform="translate(1329.30,734.50) scale(1.1,1)" font-size="26" fill="#2db383" letter-spacing="2.576" font-weight="bold">completed</text>
<text transform="translate(1303.70,845.00) scale(1.1,1)" font-size="26" fill="#2db383" letter-spacing="2.128" font-weight="bold">Planted trees</text>
<text transform="translate(1246.90,877.90) scale(1.13,1)" font-size="25" fill="#111" letter-spacing="2.557">based on Percentage</text>
<text transform="translate(1321.40,910.30) scale(1.13,1)" font-size="25" fill="#111" letter-spacing="3.480">completed</text>
<text transform="translate(1067.80,991.50) scale(1.1,1)" font-size="26" fill="#2db383" letter-spacing="2.265" font-weight="bold">Number of trees</text>
<text transform="translate(1081.80,1024.30) scale(1.13,1)" font-size="25" fill="#111" letter-spacing="2.751">you’ve planted</text>
<text transform="translate(1008.40,1136.70) scale(1.1,1)" font-size="26.5" fill="#2db383" letter-spacing="2.248" font-weight="bold">Streaks! (Current &amp; Longest)</text>
<text transform="translate(887.40,1182.40) scale(1.13,1)" font-size="25.5" fill="#111" letter-spacing="1.536">Carry out habits consecutively to gain streaks!</text>
</svg>
</div>
</body></html>
